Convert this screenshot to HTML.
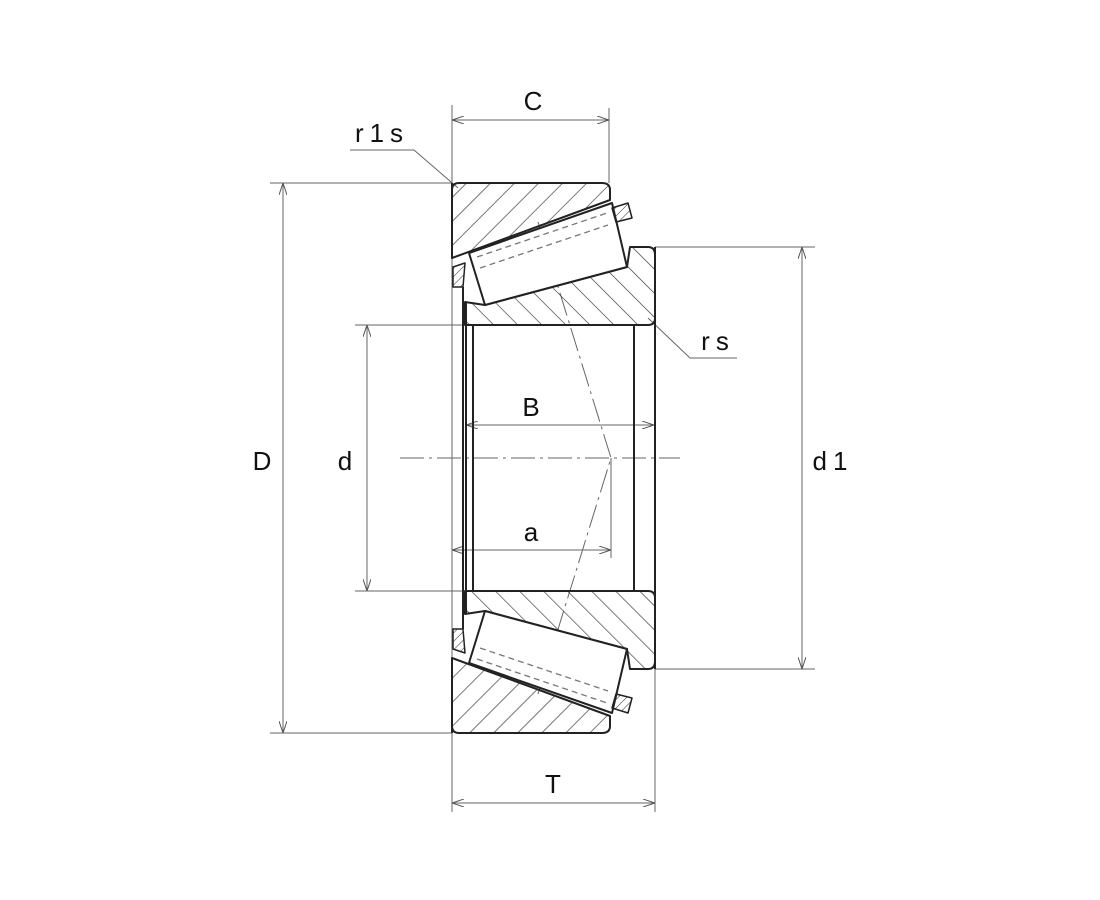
<!DOCTYPE html>
<html><head><meta charset="utf-8"><style>html,body{margin:0;padding:0;background:#fff}svg{display:block}</style></head>
<body>
<svg width="1100" height="900" viewBox="0 0 1100 900" xmlns="http://www.w3.org/2000/svg">
<defs>
<pattern id="hs" width="17" height="17" patternUnits="userSpaceOnUse" patternTransform="rotate(45)"><line x1="0" y1="0" x2="0" y2="17" stroke="#333" stroke-width="1.3"/></pattern>
<pattern id="hb" width="17" height="17" patternUnits="userSpaceOnUse" patternTransform="rotate(-45)"><line x1="0" y1="0" x2="0" y2="17" stroke="#333" stroke-width="1.3"/></pattern>
<pattern id="hc" width="6" height="6" patternUnits="userSpaceOnUse" patternTransform="rotate(45)"><line x1="0" y1="0" x2="0" y2="6" stroke="#333" stroke-width="1"/></pattern>
<marker id="ar" markerWidth="12" markerHeight="8" refX="12" refY="4" orient="auto-start-reverse" markerUnits="userSpaceOnUse"><path d="M0,0 L12,4 L0,8" fill="none" stroke="#555" stroke-width="1"/></marker>
</defs>
<g stroke="#666" stroke-width="1" fill="none">
<line x1="452" y1="105" x2="452" y2="812"/>
<line x1="609" y1="108" x2="609" y2="183"/>
<line x1="655" y1="669" x2="655" y2="812"/>
<line x1="270" y1="183" x2="452" y2="183"/>
<line x1="270" y1="733" x2="452" y2="733"/>
<line x1="355" y1="325" x2="465" y2="325"/>
<line x1="355" y1="591" x2="465" y2="591"/>
<line x1="655" y1="247" x2="815" y2="247"/>
<line x1="655" y1="669" x2="815" y2="669"/>
<line x1="611" y1="458" x2="611" y2="558"/>
<line x1="452" y1="120" x2="609" y2="120" marker-start="url(#ar)" marker-end="url(#ar)"/>
<line x1="283" y1="183" x2="283" y2="733" marker-start="url(#ar)" marker-end="url(#ar)"/>
<line x1="367" y1="325" x2="367" y2="591" marker-start="url(#ar)" marker-end="url(#ar)"/>
<line x1="802" y1="247" x2="802" y2="669" marker-start="url(#ar)" marker-end="url(#ar)"/>
<line x1="466" y1="425" x2="654" y2="425" marker-start="url(#ar)" marker-end="url(#ar)"/>
<line x1="452" y1="550" x2="611" y2="550" marker-start="url(#ar)" marker-end="url(#ar)"/>
<line x1="452" y1="803" x2="655" y2="803" marker-start="url(#ar)" marker-end="url(#ar)"/>
<polyline points="350,150 414,150 458,188"/>
<polyline points="648,318 690,358 737,358"/>
<line x1="400" y1="458" x2="680" y2="458" stroke-dasharray="24,5,3,5"/>
<polyline points="538,222 611,458 538,694" stroke-dasharray="24,5,3,5"/>
</g>
<g stroke="#222" stroke-width="2" stroke-linejoin="round">
<path d="M452,190 Q452,183 459,183 L602,183 Q610,183 610,190 L610,200 L452,258 Z" fill="url(#hs)"/>
<path d="M465,302 L485,305 L627,267 L630,247 L648,247 Q655,247 655,255 L655,318 Q655,325 648,325 L465,325 Z" fill="url(#hb)"/>
<polygon points="469,253 612,203 627,267 485,305" fill="#fff"/>
<polygon points="612,208 628,203 632,218 616,222" fill="url(#hc)" stroke-width="1.5"/>
<polygon points="453,267 465,263 463,287 453,287" fill="url(#hc)" stroke-width="1.5"/>
<path d="M452,726 Q452,733 459,733 L602,733 Q610,733 610,726 L610,716 L452,658 Z" fill="url(#hs)"/>
<path d="M465,614 L485,611 L627,649 L630,669 L648,669 Q655,669 655,661 L655,598 Q655,591 648,591 L465,591 Z" fill="url(#hb)"/>
<polygon points="469,663 612,713 627,649 485,611" fill="#fff"/>
<polygon points="612,708 628,713 632,698 616,694" fill="url(#hc)" stroke-width="1.5"/>
<polygon points="453,649 465,653 463,629 453,629" fill="url(#hc)" stroke-width="1.5"/>
<line x1="452" y1="183" x2="452" y2="258"/>
<line x1="452" y1="658" x2="452" y2="733"/>
<line x1="463" y1="287" x2="463" y2="629"/>
<line x1="466" y1="302" x2="466" y2="614"/>
<line x1="473" y1="325" x2="473" y2="591"/>
<line x1="634" y1="325" x2="634" y2="591"/>
<line x1="655" y1="247" x2="655" y2="669"/>
</g>
<g stroke="#777" stroke-width="1.3" stroke-dasharray="6,4" fill="none">
<line x1="477" y1="257" x2="607" y2="213"/>
<line x1="480" y1="268" x2="608" y2="225"/>
<line x1="477" y1="659" x2="607" y2="703"/>
<line x1="480" y1="648" x2="608" y2="691"/>
</g>
<g font-family="Liberation Sans, sans-serif" font-size="26" fill="#111" text-anchor="middle">
<text x="533" y="110">C</text>
<text x="382" y="142" letter-spacing="6">r1s</text>
<text x="262" y="470">D</text>
<text x="345" y="470">d</text>
<text x="833" y="470" letter-spacing="6">d1</text>
<text x="718" y="350" letter-spacing="6">rs</text>
<text x="531" y="416">B</text>
<text x="531" y="541">a</text>
<text x="553" y="793">T</text>
</g>
</svg>
</body></html>
